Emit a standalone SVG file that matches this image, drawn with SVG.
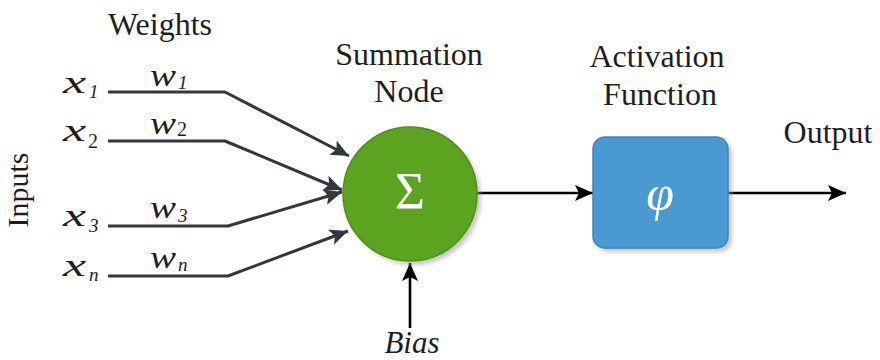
<svg xmlns="http://www.w3.org/2000/svg" width="880" height="360" viewBox="0 0 880 360">
  <style>
    text { font-family: 'Liberation Serif', 'Times New Roman', Tinos, 'Noto Serif', 'DejaVu Serif', serif; }
    .lbl { fill: #1e1e1e; }
    .cap { font-size: 32px; text-anchor: middle; }
    .var { font-size: 31px; font-style: italic; }
    .sub { font-size: 19px; font-style: italic; }
    .subu { font-size: 20px; }
    .in { fill: none; stroke: #33383d; stroke-width: 3; stroke-linejoin: round; }
    .out { fill: none; stroke: #000; stroke-width: 2.6; }
  </style>
  <defs>
    <marker id="headIn" markerUnits="userSpaceOnUse" markerWidth="20" markerHeight="18" refX="18" refY="8" orient="auto">
      <path d="M0,0 L18,8 L0,16 L4,8 Z" fill="#33383d"/>
    </marker>
    <marker id="headOut" markerUnits="userSpaceOnUse" markerWidth="20" markerHeight="18" refX="18" refY="8" orient="auto">
      <path d="M0,0 L18,8 L0,16 L4,8 Z" fill="#000"/>
    </marker>
    <filter id="soft" x="-20%" y="-20%" width="140%" height="140%">
      <feGaussianBlur stdDeviation="2"/>
    </filter>
  </defs>

  <!-- headings -->
  <text class="lbl cap" x="160" y="35">Weights</text>
  <text class="lbl cap" x="28" y="190" transform="rotate(-90 28 190)" style="font-size:30px">Inputs</text>

  <!-- input labels -->
  <g id="inputs">
    <text class="lbl var" x="63" y="93" textLength="23" lengthAdjust="spacingAndGlyphs">x</text>
    <text class="lbl sub" x="89" y="98">1</text>
    <text class="lbl var" x="63" y="141" textLength="23" lengthAdjust="spacingAndGlyphs">x</text>
    <text class="lbl subu" x="88" y="148">2</text>
    <text class="lbl var" x="63" y="226" textLength="23" lengthAdjust="spacingAndGlyphs">x</text>
    <text class="lbl sub" x="89" y="232">3</text>
    <text class="lbl var" x="63" y="276" textLength="23" lengthAdjust="spacingAndGlyphs">x</text>
    <text class="lbl sub" x="89" y="281">n</text>
  </g>

  <!-- weight labels -->
  <g id="weights">
    <text class="lbl var" x="150" y="86" textLength="26" lengthAdjust="spacingAndGlyphs">w</text>
    <text class="lbl sub" x="178" y="89">1</text>
    <text class="lbl var" x="150" y="134" textLength="26" lengthAdjust="spacingAndGlyphs">w</text>
    <text class="lbl subu" x="177" y="136">2</text>
    <text class="lbl var" x="150" y="218" textLength="26" lengthAdjust="spacingAndGlyphs">w</text>
    <text class="lbl sub" x="178" y="222">3</text>
    <text class="lbl var" x="150" y="268" textLength="26" lengthAdjust="spacingAndGlyphs">w</text>
    <text class="lbl sub" x="178" y="271">n</text>
  </g>

  <!-- connectors -->
  <g id="connectors">
    <polyline class="in" points="108,92 225,92 349,156" marker-end="url(#headIn)"/>
    <polyline class="in" points="108,141 225,141 342,190" marker-end="url(#headIn)"/>
    <polyline class="in" points="108,226 228,226 342,192" marker-end="url(#headIn)"/>
    <polyline class="in" points="108,276 228,276 348,231" marker-end="url(#headIn)"/>
    <line class="out" x1="410" y1="328" x2="410" y2="263" marker-end="url(#headOut)"/>
    <line class="out" x1="477" y1="193" x2="593" y2="193" marker-end="url(#headOut)"/>
    <line class="out" x1="728" y1="193" x2="846" y2="193" marker-end="url(#headOut)"/>
  </g>

  <!-- summation node -->
  <g id="summation">
    <text class="lbl cap" x="409" y="65">Summation</text>
    <text class="lbl cap" x="409" y="102">Node</text>
    <circle cx="414" cy="198" r="67" fill="#9a9a9a" opacity="0.55" filter="url(#soft)"/>
    <circle cx="410" cy="194" r="67" fill="#5ca31f" stroke="#4f8f1a" stroke-width="1.5"/>
    <text x="410" y="209" font-size="52" fill="#fff" text-anchor="middle">Σ</text>
  </g>

  <!-- bias -->
  <g id="bias">
    <text class="lbl" x="412" y="353" font-size="31" font-style="italic" text-anchor="middle">Bias</text>
  </g>

  <!-- activation function -->
  <g id="activation">
    <text class="lbl cap" x="657" y="67">Activation</text>
    <text class="lbl cap" x="660" y="105">Function</text>
    <rect x="597" y="141" width="135" height="111" rx="12" fill="#9a9a9a" opacity="0.55" filter="url(#soft)"/>
    <rect x="593" y="137" width="135" height="111" rx="12" fill="#4a9ad2" stroke="#3c86bd" stroke-width="1.5"/>
    <text x="660" y="210" font-size="50" font-style="italic" fill="#fff" text-anchor="middle">φ</text>
  </g>

  <!-- output -->
  <g id="output">
    <text class="lbl cap" x="828" y="143">Output</text>
  </g>
</svg>
